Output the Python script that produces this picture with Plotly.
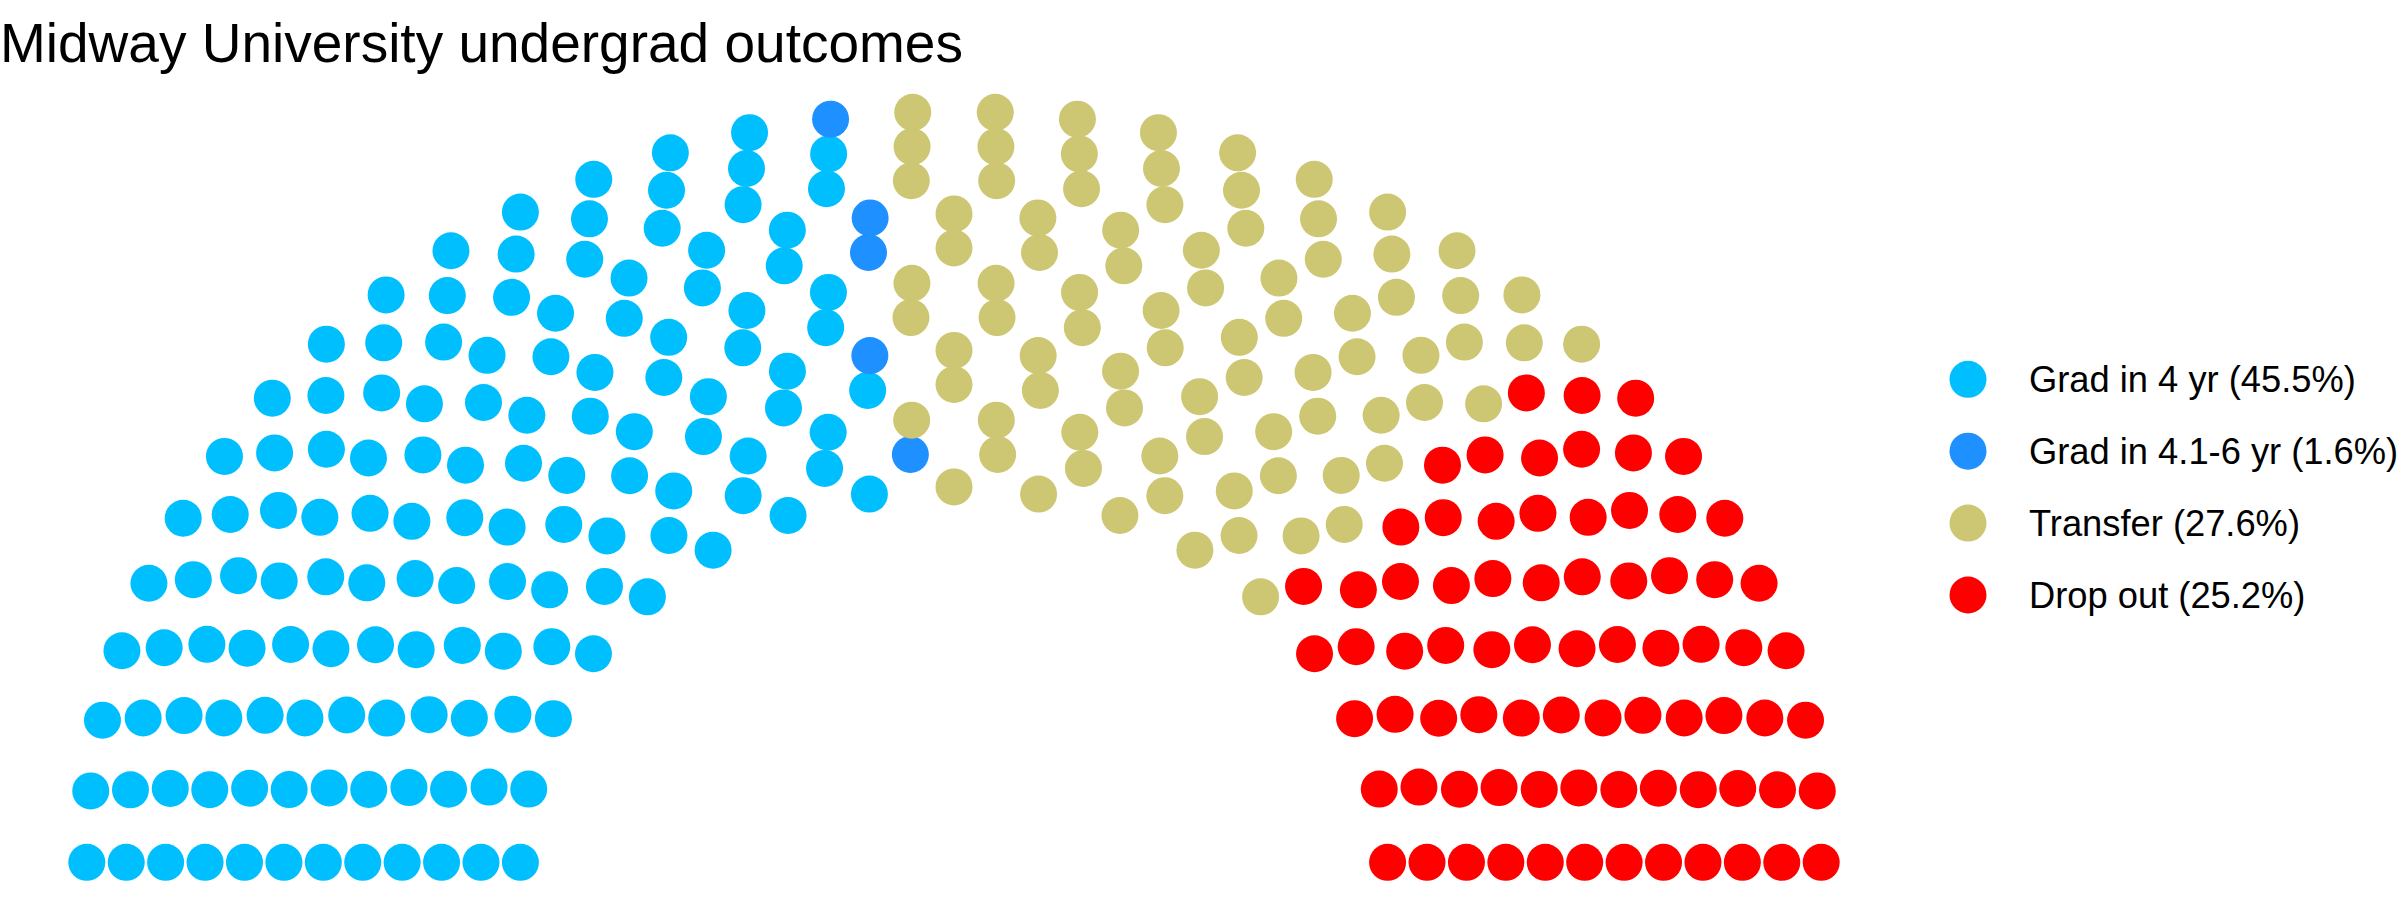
import numpy as np
import plotly.graph_objects as go

# data
categories = ["Grad in 4 yr", "Grad in 4.1-6 yr", "Transfer", "Drop out"]
seats = [137, 5, 83, 76]
shares = [45.5, 1.6, 27.6, 25.2]
colors = ["#00BFFF", "#1E90FF", "#CDC673", "#FF0000"]
n_rows = 12

FONT = "Liberation Sans, Arial, Helvetica, sans-serif"
W, H = 2400, 900


def semicircle(total, rows):
    """Parliament-style seat layout: rows of radius 1..2, seats ordered by angle."""
    radii = np.linspace(1, 2, rows)
    counts = np.floor(total * radii / radii.sum() + 0.5).astype(int)
    counts[-1] = total - counts[:-1].sum()
    pts = []
    for row, (r, n) in enumerate(zip(radii, counts)):
        for t in np.linspace(0, np.pi, n):
            pts.append((r * np.cos(t), r * np.sin(t), row, t))
    pts.sort(key=lambda p: (-round(p[3], 9), -p[2]))
    return np.array([p[0] for p in pts]), np.array([p[1] for p in pts])


x, y = semicircle(sum(seats), n_rows)
party = np.repeat(np.arange(len(seats)), seats)

fig = go.Figure()

for i, cat in enumerate(categories):
    mask = party == i
    fig.add_trace(
        go.Scatter(
            x=x[mask],
            y=y[mask],
            mode="markers",
            marker=dict(size=37, color=colors[i], line=dict(width=0)),
            name=f"{cat} ({shares[i]}%)",
            showlegend=False,
        )
    )

# hand-made legend (plotly caps legend symbols at 16px)
leg_x, leg_y0, leg_step = 1968, 379.3, 71.9
fig.add_trace(
    go.Scatter(
        x=[leg_x] * len(categories),
        y=[leg_y0 + i * leg_step for i in range(len(categories))],
        mode="markers",
        marker=dict(size=37, color=colors, line=dict(width=0)),
        xaxis="x2",
        yaxis="y2",
        showlegend=False,
        hoverinfo="skip",
    )
)
for i, cat in enumerate(categories):
    fig.add_annotation(
        x=leg_x + 59,
        y=leg_y0 + i * leg_step,
        xref="x2",
        yref="y2",
        text=f"{cat} ({shares[i]}%)",
        showarrow=False,
        xanchor="left",
        yanchor="middle",
        font=dict(family=FONT, size=36.3, color="black"),
    )

# pixel geometry of the arc: centre x, baseline y, unit lengths
cx, base_y, ux, uy = 954, 862.3, 433.6, 375.4

fig.update_layout(
    title=dict(
        text="Midway University undergrad outcomes",
        x=0,
        xanchor="left",
        y=1 - 23.5 / H,
        yanchor="top",
        font=dict(family=FONT, size=55, color="black"),
    ),
    width=W,
    height=H,
    margin=dict(l=0, r=0, t=0, b=0),
    paper_bgcolor="white",
    plot_bgcolor="white",
    showlegend=False,
    xaxis=dict(range=[-cx / ux, (W - cx) / ux], visible=False, fixedrange=True),
    yaxis=dict(range=[-(H - base_y) / uy, base_y / uy], visible=False, fixedrange=True),
    xaxis2=dict(range=[0, W], overlaying="x", visible=False, fixedrange=True),
    yaxis2=dict(range=[H, 0], overlaying="y", visible=False, fixedrange=True),
)

# drop the default 8px body margin so the figure sits at the window corner
fig.write_html(
    "out.html",
    config={"displayModeBar": False},
    post_script="document.body.style.margin='0px';",
)
